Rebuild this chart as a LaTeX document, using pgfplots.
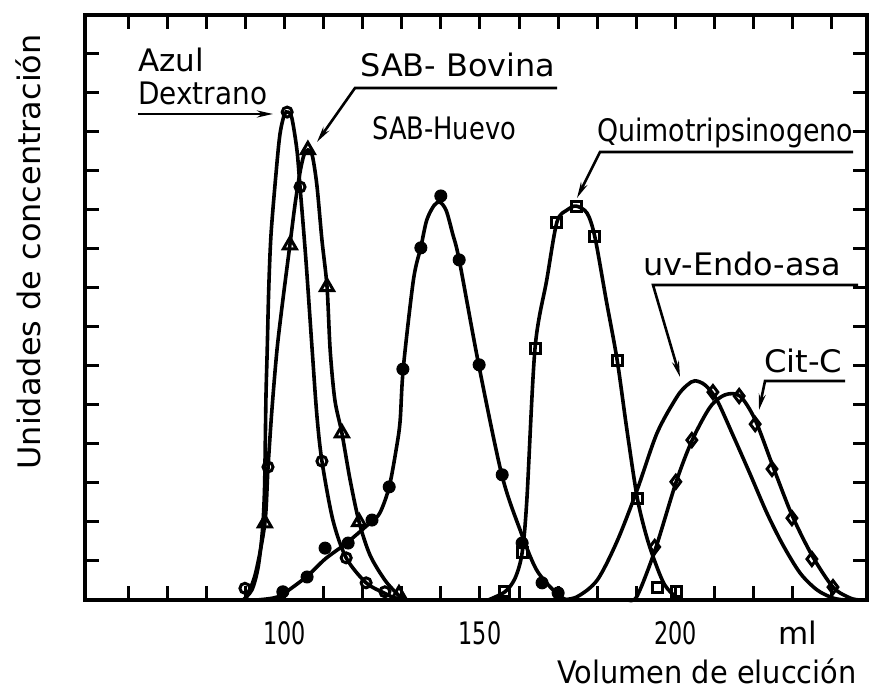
\documentclass[border=0pt]{standalone}
\usepackage{fontspec}
\setmainfont{DejaVu Sans}
\usepackage{graphicx}
\usepackage{pgfplots}
\pgfplotsset{compat=1.18}
\usetikzlibrary{arrows.meta}

\newcommand\lblfont{\fontsize{31}{36}\selectfont}
\newcommand\sx[2]{\scalebox{#1}[1]{#2}}
\newcommand\tkl[1]{\scalebox{0.72}[1]{#1}}

\begin{document}
\begin{tikzpicture}
\path[use as bounding box] (-85pt,-92pt) rectangle (786pt,600pt);
\begin{axis}[
  at={(0pt,0pt)}, anchor=south west,
  scale only axis, width=782pt, height=585pt,
  xmin=49, xmax=249, ymin=0, ymax=15,
  xtick={60,70,...,240},
  xticklabels={,,,,\tkl{100},,,,,\tkl{150},,,,,\tkl{200},,,,},
  ytick={1,...,14}, yticklabels={},
  tick pos=both, tick align=inside,
  major tick length=14pt,
  axis line style={line width=3.4pt},
  tick style={line width=3pt, black},
  xticklabel style={anchor=base, yshift=-45pt, font=\lblfont, inner sep=0pt},
  clip=false,
  every axis plot/.append style={line width=3.6pt, black},
]
% --- Azul Dextrano (open circles)
\addplot[smooth] coordinates {
 (89.4,0) (91.7,0.26) (93.3,0.85) (94.4,1.8) (94.9,2.8) (95.1,4.0) (95.3,5.3)
 (95.6,6.4) (96.0,8.0) (96.6,9.41) (98.0,11.10) (98.9,11.97) (100.0,12.45)
 (100.9,12.51) (101.9,12.36) (103.2,11.54) (104.0,10.59) (105.5,8.72)
 (107.1,6.41) (108.3,4.74) (109.6,3.56) (112.4,2.05) (115.8,1.08)
 (120.9,0.44) (125.5,0.18) (128.3,0.05) (131,0)};
% --- SAB-Bovina (open triangles)
\addplot[smooth] coordinates {
 (89.9,0) (92.5,0.64) (95.0,1.97) (95.8,3.38) (96.8,4.87) (98.1,6.41)
 (99.6,7.69) (101.4,9.10) (102.7,10.13) (104.0,10.97) (105.0,11.41)
 (106.0,11.54) (107.1,11.41) (108.3,10.64) (109.6,9.23) (110.9,8.03)
 (111.7,6.41) (112.9,5.13) (114.7,4.28) (116.8,3.08) (119.1,2.0)
 (121.9,1.15) (125.7,0.51) (129.1,0.13) (130.8,0)};
% --- SAB-Huevo (filled circles)
\addplot[smooth] coordinates {
 (93,0) (97.1,0.05) (99.6,0.15) (105.7,0.6) (110.4,1.05) (115.9,1.46)
 (121.9,1.98) (124.4,2.23) (126.8,2.90) (128.7,3.93) (129.6,4.6) (130.4,5.94)
 (133.0,8.21) (134.9,9.05) (136.4,9.74) (138.3,10.12) (139.8,10.2)
 (141.4,9.98) (143.0,9.4) (144.7,8.72) (149.7,6.03) (155.6,3.21)
 (160.3,1.79) (164.5,0.77) (169.6,0.17) (172.2,0)};
% --- Quimotripsinogeno (open squares)
\addplot[smooth] coordinates {
 (152.1,0) (156.4,0.21) (159.0,0.56) (160.8,1.21) (162.0,2.56) (164.1,6.46)
 (167.1,8.21) (169.7,9.69) (172.3,10.0) (174.6,10.1) (177.4,9.92)
 (179.4,9.31) (182.3,7.69) (185.1,6.15) (187.6,4.36) (190.2,2.64)
 (192.5,1.67) (194.8,0.97) (197.3,0.38) (200.4,0.05) (202,0)};
% --- uv-Endo-asa (line only)
\addplot[smooth] coordinates {
 (170.5,0) (174.8,0.08) (180.0,0.51) (185.1,1.51) (190.2,2.82) (195.3,4.28)
 (200.4,5.21) (203.0,5.51) (205.0,5.62) (207.6,5.51) (210.6,5.13)
 (214.7,4.23) (219.1,3.23) (223.4,2.23) (227.5,1.41) (231.9,0.69)
 (236.2,0.26) (240.3,0.05) (243.4,0)};
% --- Cit-C (open diamonds)
\addplot[smooth] coordinates {
 (188,0) (190.2,0.1) (194.8,1.28) (200.2,3.03) (204.3,4.10) (208.9,4.95)
 (212.7,5.26) (216.5,5.23) (220.4,4.62) (225.0,3.41) (229.8,2.18)
 (234.9,1.15) (240.3,0.33) (244.7,0.05) (247.2,0)};

% measured points
\addplot[only marks, line width=1pt, mark=*, mark size=6pt, mark options={fill=black, line width=1pt}] coordinates {
 (99.6,0.21) (105.8,0.59) (110.4,1.33) (116.3,1.46) (122.4,2.05) (126.8,2.90)
 (130.3,5.92) (134.9,9.03) (140.0,10.36) (144.7,8.72) (149.8,6.03)
 (155.7,3.21) (160.8,1.46) (165.9,0.44) (170.0,0.18)};
\addplot[only marks, line width=3pt, mark=triangle, mark size=7.5pt, mark options={fill=white, line width=3pt}] coordinates {
 (95.0,1.97) (101.4,9.10) (106.0,11.54) (110.9,8.03) (114.7,4.28)
 (119.1,2.0) (129.3,0.15)};
\addplot[only marks, line width=3pt, mark=o, mark size=5pt, mark options={fill=white, line width=3pt}] coordinates {
 (89.9,0.3) (95.8,3.41) (100.7,12.51) (104.0,10.59) (109.6,3.56)
 (115.8,1.08) (120.9,0.44) (125.7,0.21)};
\addplot[only marks, line width=3pt, mark=square, mark size=5pt, mark options={fill=white, line width=3pt}] coordinates {
 (156.4,0.21) (161.0,1.21) (164.1,6.46) (169.7,9.69) (174.6,10.08)
 (179.4,9.31) (185.1,6.15) (190.2,2.59) (195.5,0.33) (200.2,0.23)};
\addplot[only marks, line width=3pt, mark=diamond, mark size=6.5pt, mark options={fill=white, line width=3pt}] coordinates {
 (194.7,1.36) (200.1,3.03) (204.2,4.10) (209.6,5.33) (216.3,5.23)
 (220.4,4.51) (224.7,3.36) (229.8,2.10) (234.9,1.05) (240.3,0.33)};
\end{axis}

% labels and pointers
\begin{scope}[every node/.style={inner sep=0pt, font=\lblfont}]
\node[anchor=base west] at (53pt,528pt) {\sx{1.0}{Azul}};
\node[anchor=base west] at (53pt,495pt) {\sx{0.9}{Dextrano}};
\node[anchor=base west] at (275pt,523pt) {\sx{1.03}{SAB- Bovina}};
\node[anchor=base west] at (287pt,460pt) {\sx{0.83}{SAB-Huevo}};
\node[anchor=base west] at (512pt,458pt) {\sx{0.865}{Quimotripsinogeno}};
\node[anchor=base west] at (558pt,324pt) {\sx{1.03}{uv-Endo-asa}};
\node[anchor=base west] at (679pt,227pt) {\sx{1.04}{Cit-C}};
\node[anchor=base west] at (693pt,-45pt) {ml};
\node[anchor=base west] at (472pt,-84pt) {\sx{0.93}{Volumen de elucción}};
\node[rotate=90] at (-57pt,348pt) {\sx{1.03}{Unidades de concentración}};
\end{scope}

\begin{scope}[line width=2.6pt, >={Stealth[length=16pt,width=7pt]}]
\draw[->] (53pt,486pt) -- (188pt,486pt);
\draw[->] (472pt,512pt) -- (270pt,512pt) -- (232pt,458pt);
\draw[->] (768pt,448pt) -- (515pt,448pt) -- (492pt,402pt);
\draw[->] (773pt,315pt) -- (568pt,315pt) -- (595pt,223pt);
\draw[->] (760pt,219pt) -- (680pt,219pt) -- (674pt,190pt);
\end{scope}
\end{tikzpicture}
\end{document}
